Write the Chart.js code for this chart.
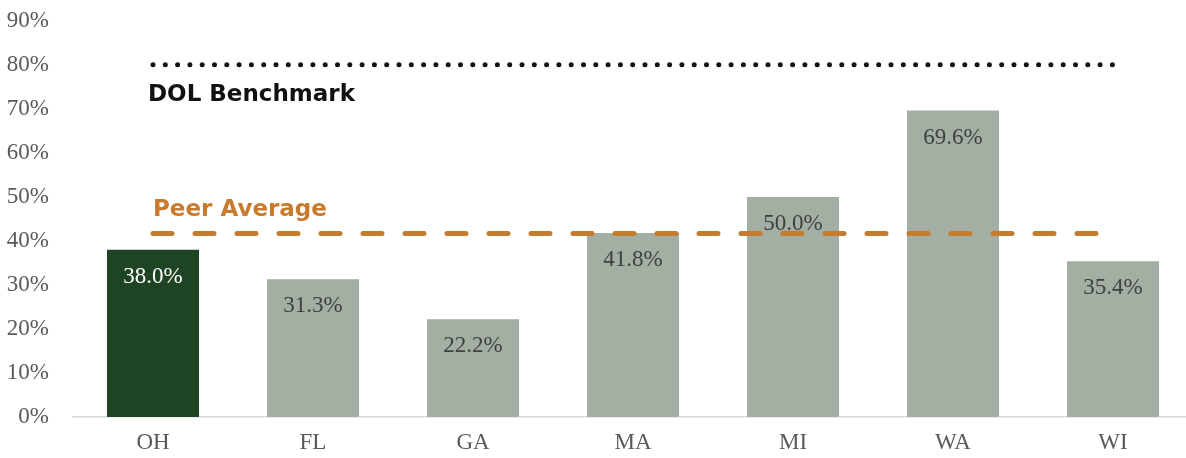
<!DOCTYPE html>
<html>
<head>
<meta charset="utf-8">
<script src="https://cdn.jsdelivr.net/npm/chart.js@4/dist/chart.umd.min.js"></script>
<style>
  body { margin: 0; overflow: hidden; background: #fff; }
  #myChart { display: block; margin-top: -9px; }
</style>
</head>
<body>
<canvas id="myChart" width="1193" height="467"></canvas>
<script>
var states = ["OH", "FL", "GA", "MA", "MI", "WA", "WI"];
var rates = [38.0, 31.3, 22.2, 41.8, 50.0, 69.6, 35.4];
var barColors = ["#1f4424", "#a2afa2", "#a2afa2", "#a2afa2", "#a2afa2", "#a2afa2", "#a2afa2"];
var labelColors = ["#ffffff", "#404040", "#404040", "#404040", "#404040", "#404040", "#404040"];
var dolBenchmark = [80, 80, 80, 80, 80, 80, 80];
var peerAverage = [41.7, 41.7, 41.7, 41.7, 41.7, 41.7, 41.7];

var serif = '"Liberation Serif", "Times New Roman", serif';

// bar value labels + the two line captions
var labelsPlugin = {
  id: 'labels',
  afterDatasetsDraw: function (chart) {
    var ctx = chart.ctx;
    var meta = chart.getDatasetMeta(2);
    ctx.save();
    ctx.font = '23px ' + serif;
    ctx.textAlign = 'center';
    ctx.textBaseline = 'middle';
    meta.data.forEach(function (bar, i) {
      ctx.fillStyle = labelColors[i];
      ctx.fillText(rates[i].toFixed(1) + '%', bar.x, bar.y + 27);
    });
    var y = chart.scales.y;
    ctx.textAlign = 'left';
    ctx.textBaseline = 'alphabetic';
    ctx.font = 'bold 23px "DejaVu Sans"';
    ctx.fillStyle = '#111111';
    ctx.fillText('DOL Benchmark', 148, y.getPixelForValue(80) + 36);
    ctx.fillStyle = '#c87b2d';
    ctx.fillText('Peer Average', 153, y.getPixelForValue(41.7) - 17);
    ctx.restore();
  }
};

new Chart("myChart", {
  type: 'bar',
  data: {
    labels: states,
    datasets: [{
      type: 'line',
      data: dolBenchmark,
      borderColor: '#111111',
      borderWidth: 5,
      borderDash: [0, 12.3],
      borderCapStyle: 'round',
      pointRadius: 0,
      order: 1
    }, {
      type: 'line',
      data: peerAverage,
      borderColor: '#c87b2d',
      borderWidth: 5,
      borderDash: [19, 23],
      borderCapStyle: 'round',
      pointRadius: 0,
      order: 2
    }, {
      data: rates,
      backgroundColor: barColors,
      barPercentage: 0.575,
      categoryPercentage: 1,
      order: 3
    }]
  },
  options: {
    responsive: false,
    animation: false,
    layout: { padding: { top: 0, right: 0 } },
    plugins: { legend: { display: false }, tooltip: { enabled: false } },
    scales: {
      x: {
        grid: { display: false },
        border: { color: '#d9d9d9', width: 1.5 },
        afterFit: function (scale) { scale.height = 41; },
        ticks: { color: '#595959', font: { family: serif, size: 23 }, padding: 4 }
      },
      y: {
        min: 0, max: 90,
        grid: { display: false },
        border: { display: false },
        afterFit: function (scale) { scale.width = 73; },
        ticks: {
          stepSize: 10,
          color: '#595959',
          padding: 16,
          font: { family: serif, size: 23 },
          callback: function (v) { return v + '%'; }
        }
      }
    }
  },
  plugins: [labelsPlugin]
});
</script>
</body>
</html>
